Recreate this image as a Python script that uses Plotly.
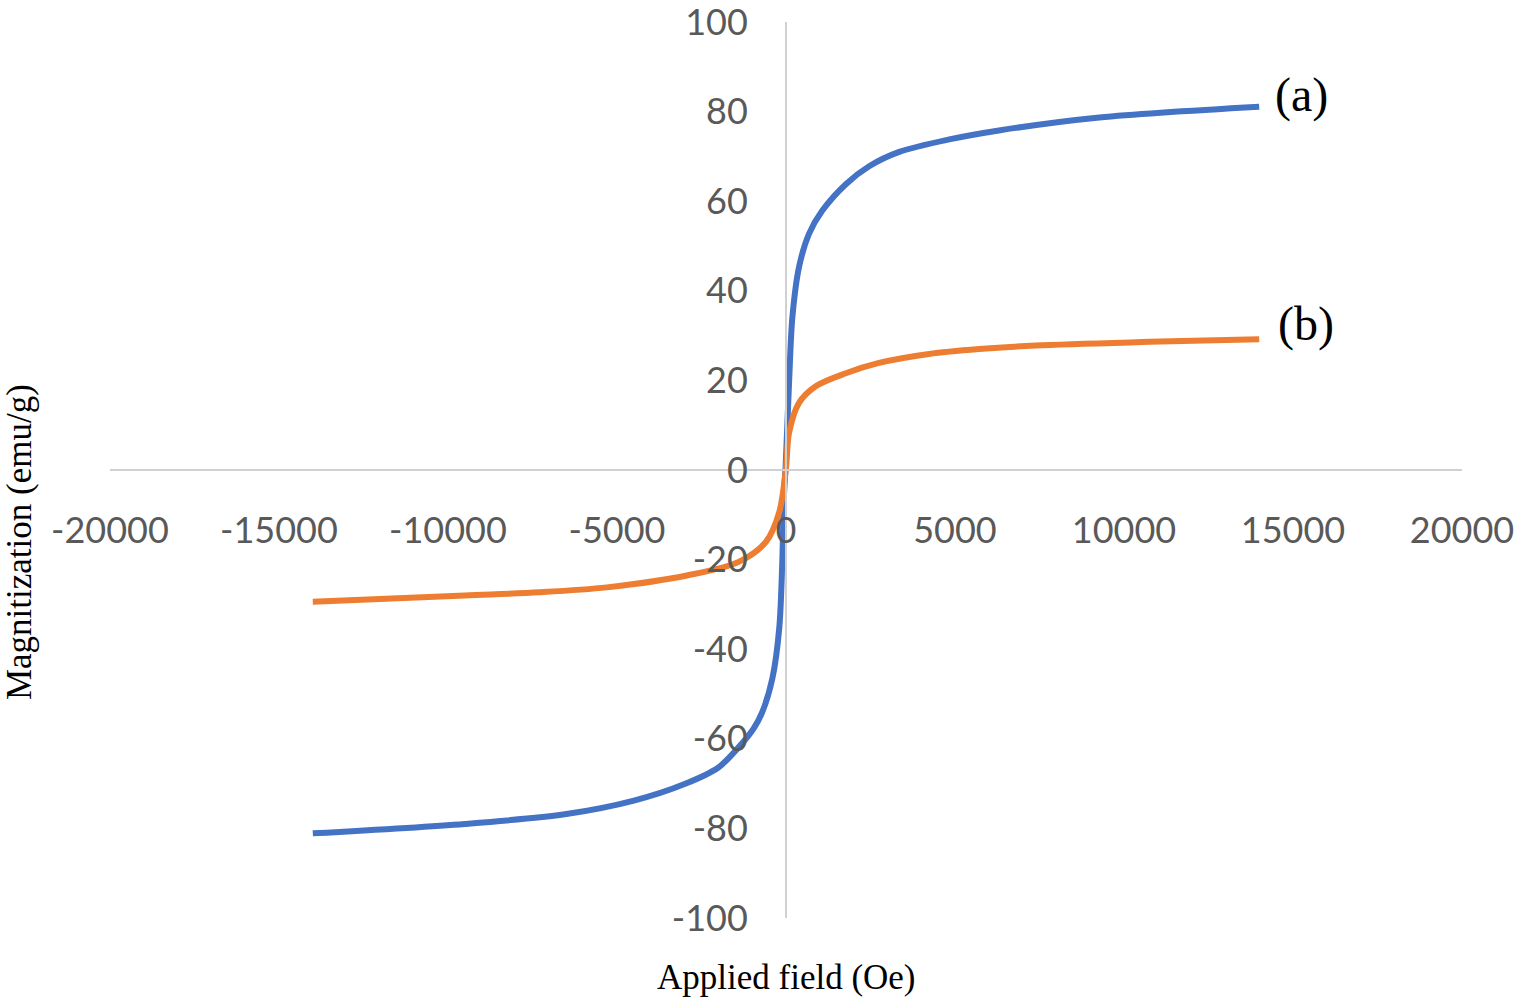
import plotly.graph_objects as go

# (a) blue curve
field_a = [-14000, -9500, -6500, -4500, -3000, -2000, -1300, -950, -700, -400, -200, -110, -60, -10,
           90, 190, 385, 680, 1075, 1770, 2460, 3350, 4830, 6300, 9270, 14000]
mag_a = [-81.1, -79.0, -76.8, -73.8, -70.1, -66.4, -61.0, -57.6, -54.0, -46.4, -35.3, -20.5, -5.7, 0.9,
         19.4, 34.2, 45.3, 52.7, 57.9, 63.8, 67.8, 71.0, 73.8, 75.8, 78.7, 81.1]

# (b) orange curve
field_b = [-14000, -9500, -7300, -5300, -2900, -1400, -600, -200, 0,
           90, 385, 880, 1770, 2750, 4230, 5710, 7390, 10750, 14000]
mag_b = [-29.4, -28.0, -27.3, -26.2, -23.5, -20.5, -16.1, -9.4, 0.5,
         8.3, 15.0, 18.7, 21.6, 23.9, 25.9, 27.0, 27.8, 28.6, 29.2]

x_ticks = [-20000, -15000, -10000, -5000, 0, 5000, 10000, 15000, 20000]
y_ticks = [-100, -80, -60, -40, -20, 0, 20, 40, 60, 80, 100]

tick_font = dict(family="Lato, Open Sans, sans-serif", size=36, color="#595959")
serif = "Liberation Serif, Times New Roman, serif"

fig = go.Figure()
fig.add_trace(go.Scatter(x=field_a, y=mag_a, mode="lines",
                         line=dict(color="#4472C4", width=6, shape="spline", smoothing=0.9)))
fig.add_trace(go.Scatter(x=field_b, y=mag_b, mode="lines",
                         line=dict(color="#ED7D31", width=6, shape="spline", smoothing=0.9)))

fig.add_annotation(x=field_a[-1], y=mag_a[-1], text="(a)", showarrow=False,
                   xanchor="left", xshift=14, yshift=12,
                   font=dict(family=serif, size=48, color="#000000"))
fig.add_annotation(x=field_b[-1], y=mag_b[-1], text="(b)", showarrow=False,
                   xanchor="left", xshift=17, yshift=15,
                   font=dict(family=serif, size=48, color="#000000"))

fig.add_annotation(xref="paper", yref="paper", x=0.5, y=-0.066, text="Applied field (Oe)",
                   showarrow=False, yanchor="middle",
                   font=dict(family=serif, size=35, color="#000000"))
fig.add_annotation(xref="paper", yref="paper", x=-0.067, y=0.42, text="Magnitization (emu/g)",
                   showarrow=False, textangle=-90, xanchor="center", yanchor="middle",
                   font=dict(family=serif, size=35, color="#000000"))

fig.update_layout(
    width=1515, height=1002,
    margin=dict(l=110, r=53, t=22, b=84),
    paper_bgcolor="white", plot_bgcolor="white",
    showlegend=False,
    xaxis=dict(range=[-20000, 20000], tickvals=x_ticks, ticktext=[str(v) for v in x_ticks],
               anchor="free", position=0.5, showline=True, linecolor="#d0d0d0", linewidth=2,
               showgrid=False, zeroline=False, ticks="", ticklabelstandoff=29,
               ticklabeloverflow="allow", tickfont=tick_font, automargin=False),
    yaxis=dict(range=[-100, 100], tickvals=y_ticks, ticktext=[str(v) for v in y_ticks],
               anchor="free", position=0.5, showline=True, linecolor="#d0d0d0", linewidth=2,
               showgrid=False, zeroline=False, ticks="", ticklabelstandoff=30,
               ticklabeloverflow="allow", tickfont=tick_font, automargin=False),
)

fig.write_html("out.html", config={"displayModeBar": False},
               post_script="document.body.style.margin='0';document.body.style.overflow='hidden';")
